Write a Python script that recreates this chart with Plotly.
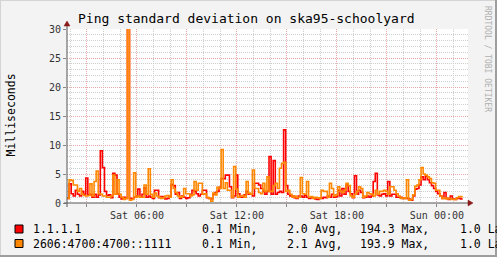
import pandas as pd
import plotly.graph_objects as go

W, H = 497, 257
L, R, T, B = 67, 468, 29, 203  # plot area in pixels

# ---- data (7.5-minute samples starting Sat 01:48) ----
start_time = "2023-05-06 01:48"
step = "450s"
cloudflare_v4 = [0.8, 3.3, 1.6, 1.2, 2.2, 1.5, 1.2, 2.0, 1.5, 4.3,
                 1.4, 1.5, 1.0, 1.5, 1.0, 1.4, 9.0, 6.1, 2.0, 1.3,
                 1.4, 0.9, 5.1, 4.8, 1.6, 1.0, 0.7, 1.0, 0.8, 194.3,
                 0.8, 0.7, 1.0, 1.2, 2.4, 1.0, 1.5, 2.6, 1.0, 1.2,
                 1.0, 0.8, 2.2, 2.2, 0.9, 1.1, 1.0, 0.7, 0.8, 1.1,
                 3.2, 3.0, 1.5, 1.8, 0.8, 1.2, 1.0, 0.8, 0.9, 1.4,
                 2.2, 2.0, 1.6, 1.2, 1.5, 2.2, 2.2, 0.9, 0.8, 0.7,
                 1.5, 1.8, 2.0, 2.7, 4.2, 4.2, 4.8, 4.8, 2.8, 0.9,
                 1.2, 4.8, 1.6, 1.0, 1.0, 1.4, 2.0, 1.5, 1.5, 1.2,
                 3.4, 3.4, 3.1, 2.5, 2.0, 1.5, 2.0, 8.0, 1.5, 7.3,
                 1.5, 1.8, 2.0, 1.8, 12.6, 3.0, 1.5, 1.2, 1.2, 0.9,
                 0.8, 1.2, 1.2, 1.0, 1.3, 1.0, 0.8, 0.9, 0.9, 0.7,
                 0.6, 0.9, 0.8, 1.0, 0.9, 1.2, 1.0, 1.5, 1.0, 1.1,
                 2.2, 1.2, 2.5, 1.5, 3.1, 2.0, 1.6, 0.9, 4.7, 1.5,
                 2.2, 1.8, 0.9, 1.0, 1.2, 1.0, 1.2, 3.7, 5.1, 1.4,
                 1.2, 1.5, 1.6, 1.2, 3.7, 1.2, 1.5, 1.5, 1.0, 1.0,
                 1.0, 0.8, 0.8, 0.8, 0.7, 0.5, 1.2, 2.4, 2.5, 3.1,
                 4.5, 4.0, 4.6, 4.0, 3.5, 3.0, 2.5, 2.0, 1.6, 1.2,
                 0.8, 1.8, 0.8, 0.6, 1.2, 0.7, 0.6, 0.8, 0.8, 0.7,
                 0.7]
cloudflare_v6 = [0.8, 4.0, 3.9, 3.1, 3.1, 2.0, 2.5, 1.5, 1.3, 1.2,
                 1.3, 3.3, 1.2, 3.7, 5.5, 1.6, 1.5, 1.2, 1.2, 1.0,
                 1.0, 1.2, 4.8, 1.5, 4.0, 1.5, 1.0, 0.6, 0.8, 193.9,
                 0.5, 0.6, 5.2, 1.0, 1.2, 1.0, 1.0, 3.1, 1.5, 5.9,
                 1.5, 1.0, 1.7, 1.2, 1.0, 0.8, 0.9, 1.2, 1.3, 1.0,
                 4.0, 2.5, 1.8, 1.2, 1.0, 1.1, 2.5, 1.6, 1.6, 1.2,
                 1.4, 3.7, 2.2, 3.4, 3.4, 1.5, 1.6, 1.0, 0.8, 0.3,
                 1.7, 1.4, 2.7, 2.5, 9.2, 2.5, 3.5, 2.2, 2.2, 1.0,
                 6.3, 2.4, 1.0, 1.2, 1.3, 1.0, 3.7, 1.7, 1.5, 5.7,
                 2.5, 2.5, 1.8, 1.6, 3.4, 2.0, 4.5, 2.0, 2.0, 3.0,
                 3.4, 2.5, 6.0, 6.8, 7.0, 2.0, 2.2, 1.5, 1.0, 1.2,
                 0.9, 1.0, 4.4, 1.6, 1.5, 3.7, 1.0, 1.1, 0.8, 1.0,
                 0.9, 0.8, 2.2, 2.0, 2.0, 1.0, 3.4, 2.5, 1.2, 1.4,
                 2.8, 2.0, 1.8, 2.2, 3.4, 3.0, 1.2, 1.0, 1.5, 2.0,
                 2.8, 2.5, 1.0, 1.2, 1.8, 1.6, 1.5, 1.2, 2.2, 1.5,
                 2.0, 2.0, 2.2, 2.0, 1.5, 2.8, 2.8, 2.2, 1.6, 1.2,
                 0.8, 0.9, 0.8, 4.0, 0.5, 0.6, 1.4, 2.9, 3.1, 4.0,
                 6.1, 5.0, 4.8, 4.5, 4.2, 3.5, 3.4, 2.2, 2.2, 1.2,
                 0.8, 0.9, 0.7, 0.8, 0.7, 0.6, 0.6, 0.9, 1.1, 1.1,
                 1.1]
series_names = ["1.1.1.1", "2606:4700:4700::1111"]
series_colors = ["#FF0000", "#FF8800"]
stat_min = ["0.1 Min,", "0.1 Min,"]
stat_avg = ["2.0 Avg,", "2.1 Avg,"]
stat_max = ["194.3 Max,", "193.9 Max,"]
stat_last = ["1.0 Last", "1.0 Last"]

x_tick_vals = ["2023-05-06 03:00", "2023-05-06 06:00", "2023-05-06 09:00",
               "2023-05-06 12:00", "2023-05-06 15:00", "2023-05-06 18:00",
               "2023-05-06 21:00", "2023-05-07 00:00"]
x_tick_text = ["", "Sat 06:00", "", "Sat 12:00", "", "Sat 18:00", "", "Sun 00:00"]
y_tick_vals = [0, 5, 10, 15, 20, 25, 30]

times = pd.date_range(start_time, periods=len(cloudflare_v4), freq=step)

MONO = "DejaVu Sans Mono"


def px(x):
    return (x - L) / (R - L)


def py(y):
    return (B - y) / (B - T)


fig = go.Figure()
for vals, name, col in zip([cloudflare_v4, cloudflare_v6], series_names, series_colors):
    fig.add_trace(go.Scatter(x=times, y=vals, mode="lines", name=name,
                             line=dict(color=col, width=1.6, shape="hv"),
                             showlegend=False, hoverinfo="skip"))

GRID = "#CFCFCF"
MGRID = "#E8A8A8"

fig.update_layout(
    width=W, height=H, autosize=False,
    margin=dict(l=L, r=W - R, t=T, b=H - B, pad=0),
    paper_bgcolor="#F3F3F3", plot_bgcolor="#FFFFFF",
    font=dict(family=MONO, size=10, color="#333333"),
    xaxis=dict(
        type="date",
        range=["2023-05-06 01:48", "2023-05-07 01:52"],
        tickmode="array", tickvals=x_tick_vals, ticktext=x_tick_text,
        showgrid=True, gridcolor=MGRID, griddash="1px,1px", gridwidth=1,
        ticks="outside", ticklen=3, tickcolor="#888888",
        tickfont=dict(family=MONO, size=10, color="#333333"),
        showline=False, zeroline=False,
        minor=dict(tickmode="linear", tick0="2023-05-06 00:00", dtick=3600000,
                   showgrid=True, gridcolor=GRID, griddash="1px,1px", gridwidth=1),
    ),
    yaxis=dict(
        range=[0, 30], tickmode="array", tickvals=y_tick_vals,
        showgrid=True, gridcolor=MGRID, griddash="1px,1px", gridwidth=1,
        ticks="outside", ticklen=3, tickcolor="#888888",
        tickfont=dict(family=MONO, size=10, color="#333333"),
        showline=False, zeroline=False,
        minor=dict(tickmode="linear", tick0=0, dtick=1,
                   showgrid=True, gridcolor=GRID, griddash="1px,1px", gridwidth=1),
    ),
)

shapes = []
# axes lines
shapes.append(dict(type="line", xref="paper", yref="paper", x0=px(L), x1=px(L),
                   y0=py(B + 4), y1=py(24), line=dict(color="#555555", width=1)))
shapes.append(dict(type="line", xref="paper", yref="paper", x0=px(L - 3), x1=px(R + 2),
                   y0=py(B), y1=py(B), line=dict(color="#555555", width=1)))
# arrows
shapes.append(dict(type="path", xref="paper", yref="paper",
                   path=f"M {px(L-3)} {py(26)} L {px(L+3)} {py(26)} L {px(L)} {py(21)} Z",
                   fillcolor="#8B1A1A", line=dict(color="#8B1A1A", width=0.5)))
shapes.append(dict(type="path", xref="paper", yref="paper",
                   path=f"M {px(R)} {py(B-3)} L {px(R)} {py(B+3)} L {px(R+5)} {py(B)} Z",
                   fillcolor="#8B1A1A", line=dict(color="#8B1A1A", width=0.5)))
# legend colour boxes
for i, col in enumerate(series_colors):
    yc = 229 + i * 14.5
    shapes.append(dict(type="rect", xref="paper", yref="paper",
                       x0=px(15), x1=px(23), y0=py(yc - 4), y1=py(yc + 4),
                       fillcolor=col, line=dict(color="#000000", width=1)))
# frame shading
shapes.append(dict(type="line", xref="paper", yref="paper", x0=px(0), x1=px(W),
                   y0=py(0.5), y1=py(0.5), line=dict(color="#D4D4D4", width=1)))
shapes.append(dict(type="line", xref="paper", yref="paper", x0=px(0.5), x1=px(0.5),
                   y0=py(0), y1=py(H), line=dict(color="#D4D4D4", width=1)))
shapes.append(dict(type="line", xref="paper", yref="paper", x0=px(0), x1=px(W),
                   y0=py(H - 1), y1=py(H - 1), line=dict(color="#9E9E9E", width=2)))
shapes.append(dict(type="line", xref="paper", yref="paper", x0=px(W - 1), x1=px(W - 1),
                   y0=py(0), y1=py(H), line=dict(color="#9E9E9E", width=2)))
fig.update_layout(shapes=shapes)

ann = []
ann.append(dict(text="Ping standard deviation on ska95-schoolyard", xref="paper", yref="paper",
                x=px(246), y=py(19), xanchor="center", yanchor="middle", showarrow=False,
                font=dict(family=MONO, size=13, color="#000000")))
ann.append(dict(text="Milliseconds", xref="paper", yref="paper", textangle=-90,
                x=px(10.5), y=py(115), xanchor="center", yanchor="middle", showarrow=False,
                font=dict(family=MONO, size=11.5, color="#000000")))
ann.append(dict(text="RRDTOOL / TOBI OETIKER", xref="paper", yref="paper", textangle=90,
                x=px(488), y=py(59), xanchor="center", yanchor="middle", showarrow=False,
                font=dict(family=MONO, size=8, color="#B0B0B0")))
for i in range(2):
    yc = 229 + i * 14.5
    for xx, txt in [(30.5, series_names[i]), (200, stat_min[i]), (285, stat_avg[i]),
                    (358, stat_max[i]), (458, stat_last[i])]:
        ann.append(dict(text=txt, xref="paper", yref="paper", x=px(xx), y=py(yc),
                        xanchor="left", yanchor="middle", showarrow=False,
                        font=dict(family=MONO, size=11.5, color="#000000")))
fig.update_layout(annotations=ann)

fig.write_html("out.html")
